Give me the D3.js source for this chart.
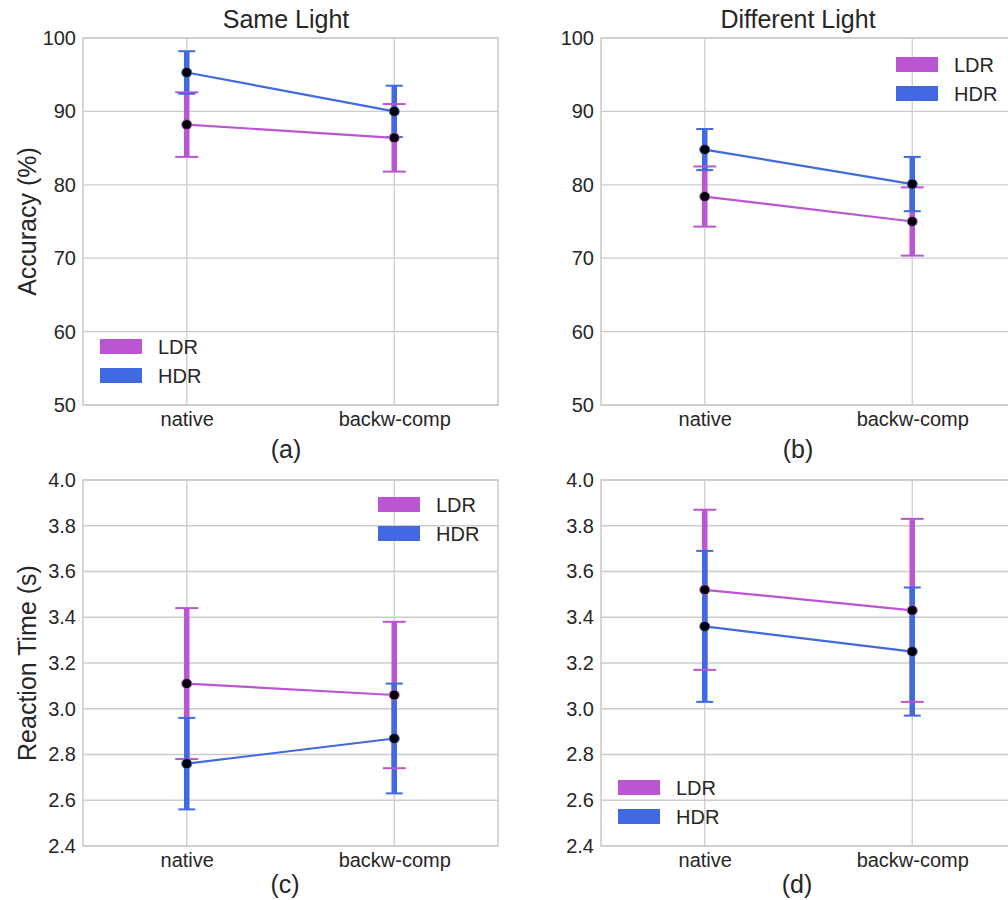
<!DOCTYPE html>
<html>
<head>
<meta charset="utf-8">
<script src="https://cdn.jsdelivr.net/npm/d3@7"></script>
<style>
  body { margin: 0; background: #fff; }
  svg text { font-family: "Liberation Sans", Arial, sans-serif; fill: #262626; }
</style>
</head>
<body>
<svg id="chart" width="1008" height="900"></svg>
<script>
// conditions on the x axis
const conditions = ['native', 'backw-comp'];
const series = ['LDR', 'HDR'];
const colors = { LDR: '#ba55d3', HDR: '#4169e1' };

// accuracy (%) : mean and half error bar
const accSameLDR = [88.2, 86.4];
const accSameLDRErr = [4.4, 4.6];
const accSameHDR = [95.3, 90.0];
const accSameHDRErr = [2.9, 3.5];
const accDiffLDR = [78.4, 75.0];
const accDiffLDRErr = [4.1, 4.65];
const accDiffHDR = [84.8, 80.1];
const accDiffHDRErr = [2.8, 3.7];

// reaction time (s)
const rtSameLDR = [3.11, 3.06];
const rtSameLDRErr = [0.33, 0.32];
const rtSameHDR = [2.76, 2.87];
const rtSameHDRErr = [0.20, 0.24];
const rtDiffLDR = [3.52, 3.43];
const rtDiffLDRErr = [0.35, 0.40];
const rtDiffHDR = [3.36, 3.25];
const rtDiffHDRErr = [0.33, 0.28];

const accTicks = [50, 60, 70, 80, 90, 100];
const rtTicks = [2.4, 2.6, 2.8, 3.0, 3.2, 3.4, 3.6, 3.8, 4.0];

const panels = [
  { x: 83, y: 38, w: 415, h: 367, cx: 286, title: 'Same Light', label: '(a)', labelY: 458, ylabel: 'Accuracy (%)',
    domain: [50, 100], ticks: accTicks, fmt: d3.format('d'),
    data: { LDR: [accSameLDR, accSameLDRErr], HDR: [accSameHDR, accSameHDRErr] },
    legend: { x: 100, y: 339 } },
  { x: 601, y: 38, w: 415, h: 367, cx: 798, title: 'Different Light', label: '(b)', labelY: 458, ylabel: null,
    domain: [50, 100], ticks: accTicks, fmt: d3.format('d'),
    data: { LDR: [accDiffLDR, accDiffLDRErr], HDR: [accDiffHDR, accDiffHDRErr] },
    legend: { x: 896, y: 57 } },
  { x: 83, y: 480, w: 415, h: 366, cx: 285, title: null, label: '(c)', labelY: 893, ylabel: 'Reaction Time (s)',
    domain: [2.4, 4.0], ticks: rtTicks, fmt: d3.format('.1f'),
    data: { LDR: [rtSameLDR, rtSameLDRErr], HDR: [rtSameHDR, rtSameHDRErr] },
    legend: { x: 378, y: 497 } },
  { x: 601, y: 480, w: 415, h: 366, cx: 797, title: null, label: '(d)', labelY: 893, ylabel: null,
    domain: [2.4, 4.0], ticks: rtTicks, fmt: d3.format('.1f'),
    data: { LDR: [rtDiffLDR, rtDiffLDRErr], HDR: [rtDiffHDR, rtDiffHDRErr] },
    legend: { x: 618, y: 780 } }
];

const svg = d3.select('#chart');
const capHalf = { LDR: 11.5, HDR: 8.5 };

panels.forEach(p => {
  const g = svg.append('g').attr('transform', `translate(${p.x},${p.y})`);
  const x = d3.scaleLinear().domain([-0.5, 1.5]).range([0, p.w]);
  const y = d3.scaleLinear().domain(p.domain).range([p.h, 0]);

  // grid
  g.append('g').selectAll('line').data(p.ticks).join('line')
    .attr('x1', 0).attr('x2', p.w)
    .attr('y1', d => y(d)).attr('y2', d => y(d))
    .attr('stroke', '#cccccc').attr('stroke-width', 1.3);
  g.append('g').selectAll('line').data(conditions).join('line')
    .attr('x1', (d, i) => x(i)).attr('x2', (d, i) => x(i))
    .attr('y1', 0).attr('y2', p.h)
    .attr('stroke', '#cccccc').attr('stroke-width', 1.3);
  g.append('rect').attr('width', p.w).attr('height', p.h)
    .attr('fill', 'none').attr('stroke', '#cccccc').attr('stroke-width', 1.6);

  // axes (text only)
  const yAxis = g.append('g').call(d3.axisLeft(y).tickValues(p.ticks).tickFormat(p.fmt).tickSize(0).tickPadding(7));
  yAxis.select('.domain').remove();
  yAxis.selectAll('text').attr('font-size', 20).attr('fill', '#262626');
  const xAxis = g.append('g').attr('transform', `translate(0,${p.h})`)
    .call(d3.axisBottom(x).tickValues([0, 1]).tickFormat(i => conditions[i]).tickSize(0).tickPadding(7));
  xAxis.select('.domain').remove();
  xAxis.selectAll('text').attr('font-size', 20).attr('fill', '#262626');

  // error bars
  series.forEach(s => {
    const [m, e] = p.data[s];
    g.append('g').selectAll('line').data(m).join('line')
      .attr('x1', (d, i) => x(i)).attr('x2', (d, i) => x(i))
      .attr('y1', (d, i) => y(d - e[i])).attr('y2', (d, i) => y(d + e[i]))
      .attr('stroke', colors[s]).attr('stroke-width', 5.5);
  });
  series.forEach(s => {
    const [m, e] = p.data[s];
    const caps = [];
    m.forEach((d, i) => { caps.push([i, d - e[i]]); caps.push([i, d + e[i]]); });
    g.append('g').selectAll('line').data(caps).join('line')
      .attr('x1', d => x(d[0]) - capHalf[s]).attr('x2', d => x(d[0]) + capHalf[s])
      .attr('y1', d => y(d[1])).attr('y2', d => y(d[1]))
      .attr('stroke', colors[s]).attr('stroke-width', 2);
  });

  // lines and markers
  series.forEach(s => {
    const m = p.data[s][0];
    g.append('path').datum(m)
      .attr('d', d3.line().x((d, i) => x(i)).y(d => y(d)))
      .attr('fill', 'none').attr('stroke', colors[s]).attr('stroke-width', 2.2);
    g.append('g').selectAll('circle').data(m).join('circle')
      .attr('cx', (d, i) => x(i)).attr('cy', d => y(d)).attr('r', 5)
      .attr('fill', '#000').attr('stroke', colors[s]).attr('stroke-width', 1);
  });

  // legend
  const lg = svg.append('g').attr('transform', `translate(${p.legend.x},${p.legend.y})`);
  series.forEach((s, i) => {
    lg.append('rect').attr('x', 0).attr('y', i * 29).attr('width', 42).attr('height', 15)
      .attr('fill', colors[s]);
    lg.append('text').attr('x', 58).attr('y', i * 29 + 14.5).attr('font-size', 20).text(s);
  });

  if (p.title) {
    svg.append('text').attr('x', p.cx).attr('y', 28)
      .attr('text-anchor', 'middle').attr('font-size', 25).text(p.title);
  }
  svg.append('text').attr('x', p.cx).attr('y', p.labelY)
    .attr('text-anchor', 'middle').attr('font-size', 25).text(p.label);
  if (p.ylabel) {
    svg.append('text')
      .attr('transform', `translate(${p.x - 47},${p.y + p.h / 2}) rotate(-90)`)
      .attr('text-anchor', 'middle').attr('font-size', 25).text(p.ylabel);
  }
});
</script>
</body>
</html>
